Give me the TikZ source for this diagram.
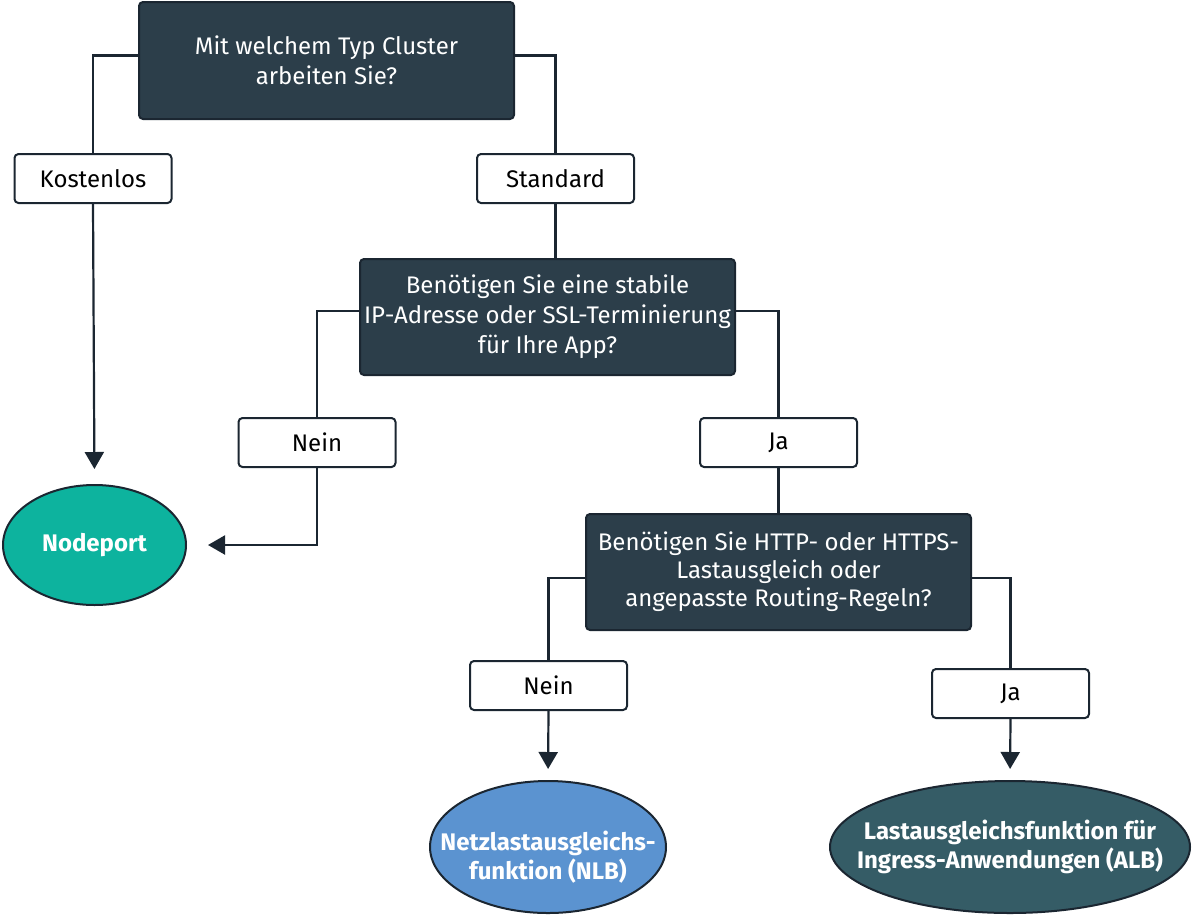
\documentclass[tikz,border=0pt]{standalone}
\usepackage{fontspec}
\setmainfont{Fira Sans}
\usetikzlibrary{arrows.meta,shapes.geometric}
\definecolor{qfill}{HTML}{2C3E4A}
\definecolor{ink}{HTML}{1B2631}
\definecolor{tealfill}{HTML}{0DB39E}
\definecolor{bluefill}{HTML}{5B93D0}
\definecolor{slatefill}{HTML}{355C66}
\begin{document}
\begin{tikzpicture}[x=1pt,y=-1pt,
  question/.style={draw=ink,line width=2pt,fill=qfill,rounded corners=4pt,text=white,
    align=center,font=\fontsize{24}{30}\selectfont,inner sep=0pt},
  answer/.style={draw=ink,line width=2pt,fill=white,rounded corners=4pt,text=black,
    minimum width=157pt,minimum height=49pt,font=\fontsize{24}{28}\selectfont,inner sep=0pt},
  result/.style={ellipse,draw=ink,line width=2pt,text=white,align=center,
    inner xsep=-80pt,inner ysep=-60pt,font=\bfseries\fontsize{24}{29.5}\selectfont},
  resulttext/.style={text=white,align=center,font=\bfseries\fontsize{24}{29.5}\selectfont},
  link/.style={draw=ink,line width=2.2pt},
  arrowlink/.style={link,-{Triangle[width=19pt,length=17pt]}}]
\useasboundingbox (0,0) rectangle (1196,916);

% questions
\node[question,minimum width=375pt,minimum height=117pt] (q1) at (326.5,60.5)
  {Mit welchem Typ Cluster\\arbeiten Sie?};
\node[question,minimum width=375pt,minimum height=116pt] (q2) at (547.5,317)
  {Benötigen Sie eine stabile\\IP-Adresse oder SSL-Terminierung\\für Ihre App?};
\node[question,minimum width=385pt,minimum height=116pt,font=\fontsize{24}{28}\selectfont] (q3) at (778.5,572)
  {Benötigen Sie HTTP- oder HTTPS-\\Lastausgleich oder\\angepasste Routing-Regeln?};

% answers
\node[answer] (kost) at (93,178.5) {Kostenlos};
\node[answer] (std) at (555.5,178.5) {Standard};
\node[answer] (nein1) at (317,442.5) {Nein};
\node[answer] (ja1) at (778.5,442.5) {Ja};
\node[answer] (nein2) at (548.5,685.5) {Nein};
\node[answer] (ja2) at (1010.5,693.5) {Ja};

% results
\node[result,fill=tealfill,minimum width=183pt,minimum height=120pt] (np) at (94.5,545) {Nodeport};
\node[result,fill=bluefill,minimum width=236pt,minimum height=132pt] (nlb) at (548,847) {};
\node[resulttext] (nlbtext) at ([yshift=-10pt]nlb.center) {Netzlastausgleichs-\\funktion (NLB)};
\node[result,fill=slatefill,minimum width=360pt,minimum height=132pt] (alb) at (1010,847)
  {Lastausgleichsfunktion für\\Ingress-Anwendungen (ALB)};

% connectors
\draw[link] ([yshift=5pt]q1.west) -| (kost.north);
\draw[link] ([yshift=5pt]q1.east) -| (std.north);
\draw[arrowlink,shorten >=15pt] (kost.south) -- (np.north);
\draw[link] (std.south) -- (std.south |- q2.north);
\draw[link] ([yshift=6pt]q2.west) -| (nein1.north);
\draw[link] ([yshift=6pt]q2.east) -| (ja1.north);
\draw[arrowlink,shorten >=21pt] (nein1.south) |- (np.east);
\draw[link] (ja1.south) -- (ja1.south |- q3.north);
\draw[link] ([yshift=-6pt]q3.west) -| (nein2.north);
\draw[link] ([yshift=-6pt]q3.east) -| (ja2.north);
\draw[arrowlink,shorten >=11pt] (nein2.south) -- (nlb.north);
\draw[arrowlink,shorten >=11pt] (ja2.south) -- (alb.north);
\end{tikzpicture}
\end{document}
